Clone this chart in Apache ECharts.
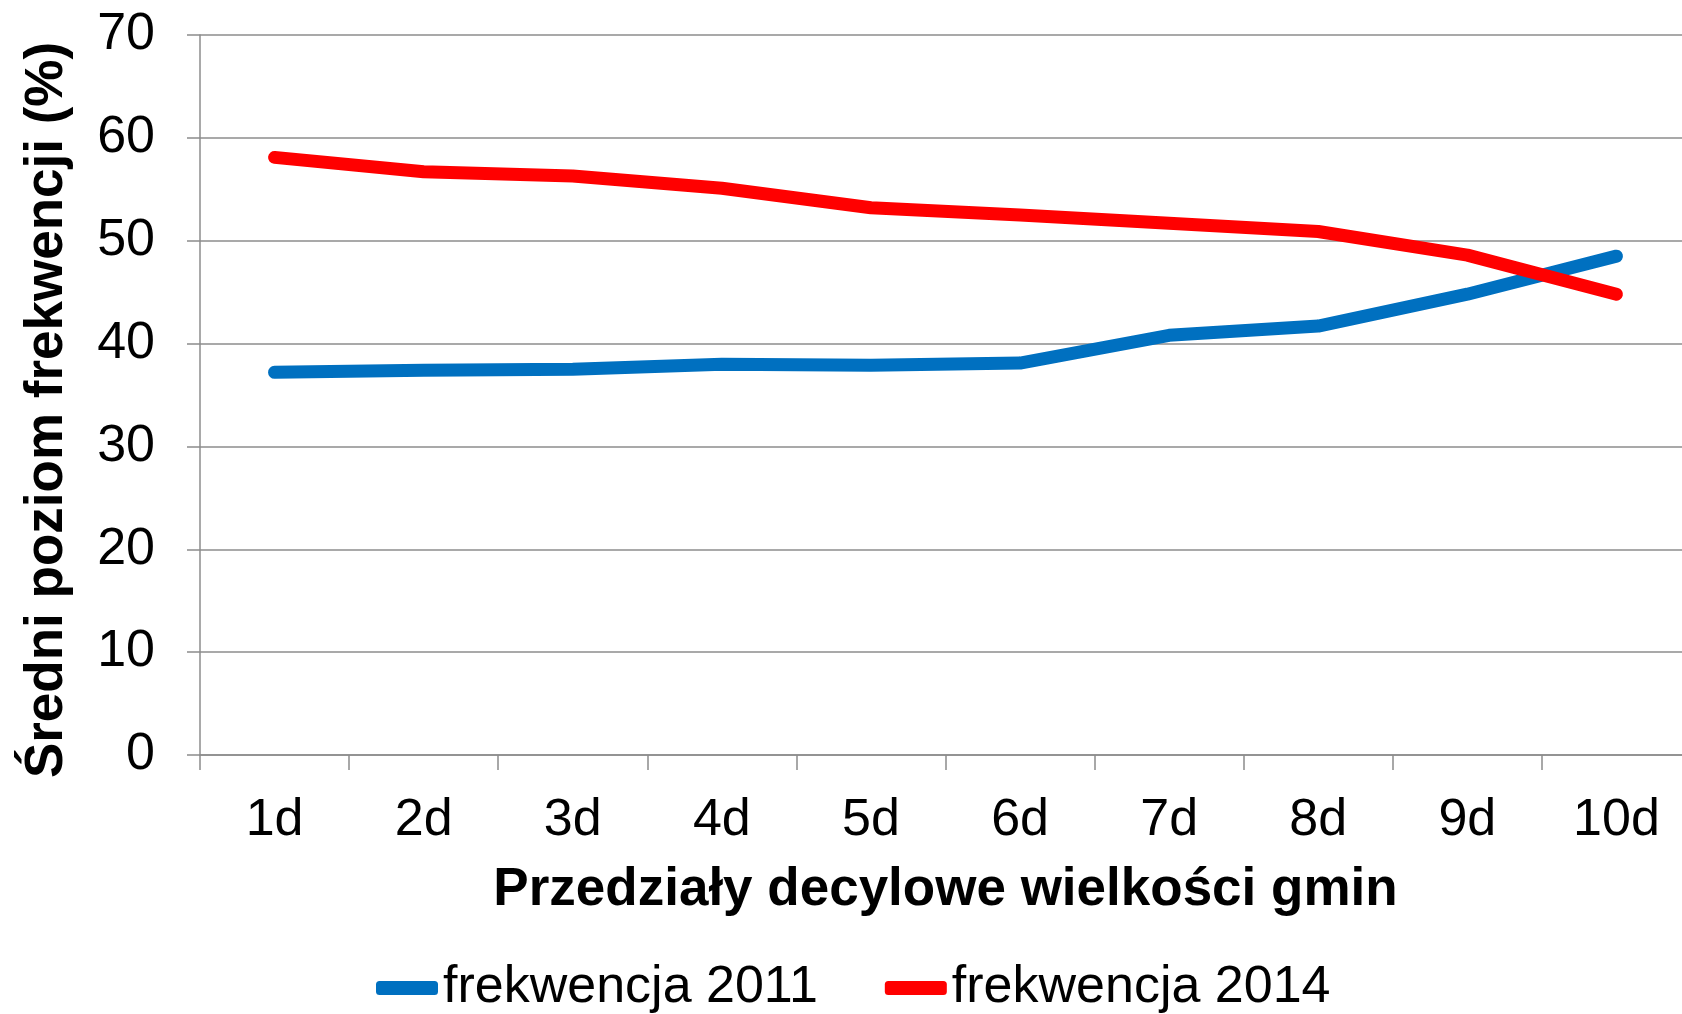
<!DOCTYPE html>
<html>
<head>
<meta charset="utf-8">
<script src="https://cdn.jsdelivr.net/npm/echarts@6/dist/echarts.min.js"></script>
<style>
  html, body { margin: 0; padding: 0; background: #fff; }
  #chart { width: 1682px; height: 1014px; }
</style>
</head>
<body>
<div id="chart"></div>
<script>
// 数据
const categories = ['1d', '2d', '3d', '4d', '5d', '6d', '7d', '8d', '9d', '10d'];
const turnout2011 = [37.2, 37.4, 37.5, 38.0, 37.9, 38.1, 40.8, 41.7, 44.8, 48.5];
const turnout2014 = [58.1, 56.7, 56.3, 55.1, 53.2, 52.5, 51.7, 50.9, 48.6, 44.8];
const seriesNames = ['frekwencja 2011', 'frekwencja 2014'];

const fontFamily = '"Liberation Sans", Arial, sans-serif';
const gridColor = '#8c8c8c';

const chart = echarts.init(document.getElementById('chart'));

const option = {
    animation: false,
    backgroundColor: '#ffffff',
    textStyle: { fontFamily: fontFamily },
    grid: {
        left: 200,
        top: 35,
        width: 1491,
        height: 720,
        containLabel: false,
        outerBoundsMode: 'none'
    },
    legend: {
        data: seriesNames,
        left: 371,
        top: 957,
        icon: 'roundRect',
        itemWidth: 62,
        itemHeight: 14,
        itemGap: 67,
        textStyle: {
            fontSize: 52,
            color: '#000',
            fontFamily: fontFamily
        }
    },
    xAxis: {
        type: 'category',
        data: categories,
        boundaryGap: true,
        name: 'Przedziały decylowe wielkości gmin',
        nameLocation: 'middle',
        nameGap: 109,
        nameTextStyle: {
            fontSize: 53,
            fontWeight: 'bold',
            color: '#000'
        },
        axisLine: { show: true, lineStyle: { color: gridColor, width: 1.5 } },
        axisTick: { show: true, length: 15, alignWithLabel: false, lineStyle: { color: gridColor, width: 1.5 } },
        axisLabel: {
            fontSize: 52,
            color: '#000',
            margin: 40
        },
        splitLine: { show: false }
    },
    yAxis: {
        type: 'value',
        min: 0,
        max: 70,
        interval: 10,
        name: 'Średni poziom frekwencji (%)',
        nameLocation: 'middle',
        nameRotate: 90,
        nameGap: 126,
        nameTextStyle: {
            fontSize: 53,
            fontWeight: 'bold',
            color: '#000',
            padding: [0, 30, 0, 0]
        },
        axisLine: { show: true, lineStyle: { color: gridColor, width: 1.5 } },
        axisTick: { show: true, length: 13, lineStyle: { color: gridColor, width: 1.5 } },
        axisLabel: {
            fontSize: 52,
            color: '#000',
            margin: 45
        },
        splitLine: { show: true, lineStyle: { color: gridColor, width: 1.5 } }
    },
    series: [
        {
            name: seriesNames[0],
            type: 'line',
            data: turnout2011,
            symbol: 'none',
            color: '#0070C0',
            lineStyle: { width: 13, color: '#0070C0', cap: 'round', join: 'round' }
        },
        {
            name: seriesNames[1],
            type: 'line',
            data: turnout2014,
            symbol: 'none',
            color: '#FF0000',
            lineStyle: { width: 13, color: '#FF0000', cap: 'round', join: 'round' }
        }
    ]
};

chart.setOption(option);
</script>
</body>
</html>
